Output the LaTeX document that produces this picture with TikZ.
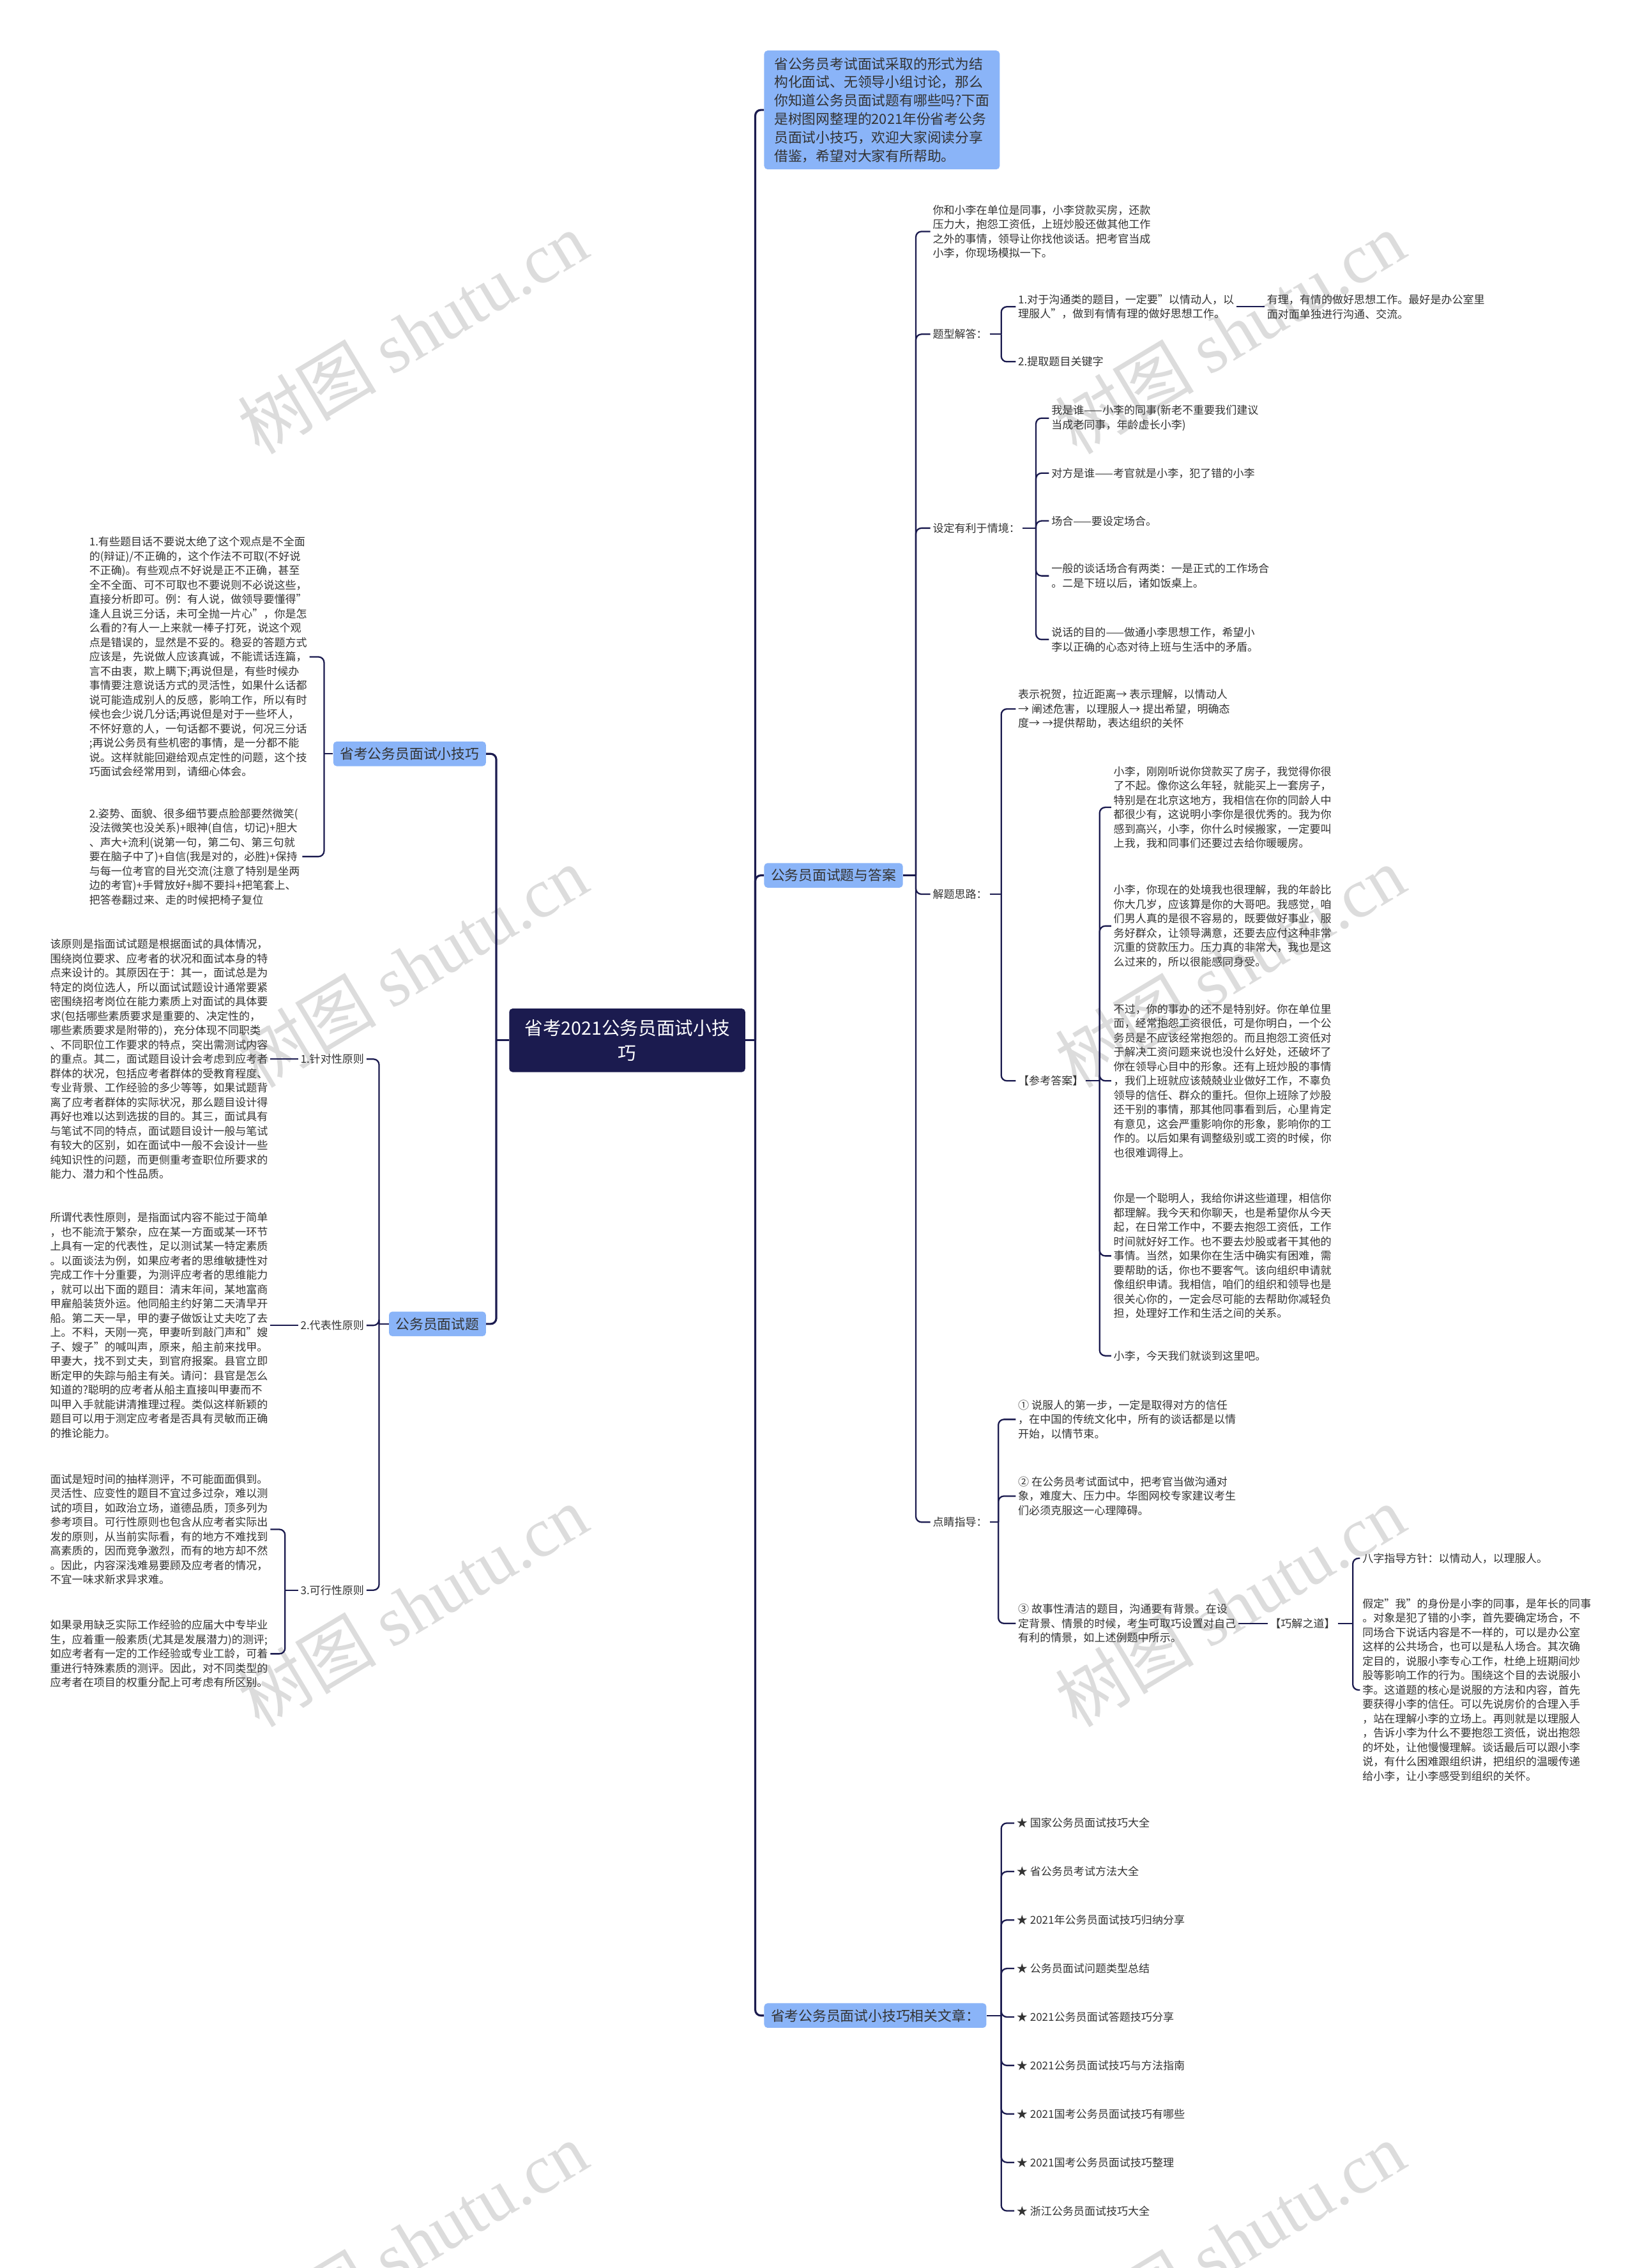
\documentclass[tikz,border=0pt]{standalone}
\usepackage{fontspec}
\setmainfont{Noto Sans CJK SC}
\newfontfamily\wmlatin{Liberation Serif}
\usetikzlibrary{positioning}
\definecolor{mapnavy}{HTML}{1B1B4F}
\definecolor{topicblue}{HTML}{8AB4F8}
\definecolor{mapink}{HTML}{333333}
\definecolor{wmgray}{HTML}{DCDCDC}

\begin{document}
\begin{tikzpicture}[
        x=0.4531mm, y=-0.4531mm,
        rootnode/.style={
            fill=mapnavy,
            text=white,
            rounded corners=3pt,
            align=center,
            minimum width=73.9mm,
            minimum height=19.9mm,
            font=\fontsize{16.3}{21.8}\selectfont
        },
        topicbox/.style={
            fill=topicblue,
            text=mapink,
            rounded corners=3pt,
            align=left,
            inner xsep=6pt,
            inner ysep=3pt,
            minimum height=7.7mm,
            font=\fontsize{12.4}{16.4}\selectfont
        },
        leaf/.style={
            text=mapink,
            align=left,
            anchor=west,
            inner xsep=2pt,
            inner ysep=1pt,
            font=\fontsize{9.7}{12.8}\selectfont
        },
        branch/.style={draw=mapnavy, line width=1.3pt, rounded corners=5pt},
        trunk/.style={branch, line width=1.8pt},
        watermark/.style={text=wmgray, rotate=31, font=\fontsize{62}{70}\selectfont}
    ]
        \fill[white] (0,0) rectangle (1130,1567.5);
        \useasboundingbox (0,0) rectangle (1130,1567.5);

        % watermark
        \foreach \wx in {285,850}
            \foreach \wy in {230,668,1110,1550}
                \node[watermark] at (\wx,\wy) {树图 {\wmlatin shutu.cn}};

        % root
        \node[rootnode] (root) at (433.5,719) {省考2021公务员面试小技\\巧};
        \coordinate (rootR) at (522,719);
        \coordinate (rootL) at (343,719);

        % right topics
        \node[topicbox, anchor=west, inner xsep=9pt, inner ysep=6pt] (intro) at (528,76)
            {省公务员考试面试采取的形式为结\\构化面试、无领导小组讨论，那么\\你知道公务员面试题有哪些吗?下面\\是树图网整理的2021年份省考公务\\员面试小技巧，欢迎大家阅读分享\\借鉴，希望对大家有所帮助。};
        \node[topicbox, anchor=west] (qa) at (528,605) {公务员面试题与答案};
        \node[topicbox, anchor=west] (arts) at (528,1393) {省考公务员面试小技巧相关文章：};

        % left topics
        \node[topicbox, anchor=east] (tips) at (336,521) {省考公务员面试小技巧};
        \node[topicbox, anchor=east] (exam) at (336,915) {公务员面试题};

        \draw[trunk] (root.east) -- (rootR);
        \draw[trunk] (root.west) -- (rootL);
        \foreach \t in {intro,qa,arts}
            \draw[trunk] (rootR) |- (\t.west);
        \foreach \t in {tips,exam}
            \draw[trunk] (rootL) |- (\t.east);

        % --- 公务员面试题与答案
        \node[leaf] (q1) at (643,160) {你和小李在单位是同事，小李贷款买房，还款\\压力大，抱怨工资低，上班炒股还做其他工作\\之外的事情，领导让你找他谈话。把考官当成\\小李，你现场模拟一下。};
        \node[leaf] (qtype) at (643,231) {题型解答：};
        \node[leaf] (qset) at (643,365) {设定有利于情境：};
        \node[leaf] (qidea) at (643,618) {解题思路：};
        \node[leaf] (qpoint) at (643,1052) {点睛指导：};
        \coordinate (qaJ) at (633,605);
        \draw[branch] (qa.east) -- (qaJ);
        \foreach \c in {q1,qtype,qset,qidea,qpoint}
            \draw[branch] (qaJ) |- (\c.west);

        % 题型解答
        \node[leaf] (t1) at (702,212) {1.对于沟通类的题目，一定要"以情动人，以\\理服人"，做到有情有理的做好思想工作。};
        \node[leaf] (t2) at (702,250) {2.提取题目关键字};
        \node[leaf] (t1note) at (874,212) {有理，有情的做好思想工作。最好是办公室里\\面对面单独进行沟通、交流。};
        \coordinate (qtypeJ) at (692,231);
        \draw[branch] (qtype.east) -- (qtypeJ);
        \foreach \c in {t1,t2}
            \draw[branch] (qtypeJ) |- (\c.west);
        \draw[branch] (t1.east) -- (t1note.west);

        % 设定有利于情境
        \node[leaf] (s1) at (725,289) {我是谁——小李的同事(新老不重要我们建议\\当成老同事，年龄虚长小李)};
        \node[leaf] (s2) at (725,327) {对方是谁——考官就是小李，犯了错的小李};
        \node[leaf] (s3) at (725,360) {场合——要设定场合。};
        \node[leaf] (s4) at (725,398) {一般的谈话场合有两类：一是正式的工作场合\\。二是下班以后，诸如饭桌上。};
        \node[leaf] (s5) at (725,442) {说话的目的——做通小李思想工作，希望小\\李以正确的心态对待上班与生活中的矛盾。};
        \coordinate (qsetJ) at (716,365);
        \draw[branch] (qset.east) -- (qsetJ);
        \foreach \c in {s1,s2,s3,s4,s5}
            \draw[branch] (qsetJ) |- (\c.west);

        % 解题思路
        \node[leaf] (i1) at (702,490) {表示祝贺，拉近距离→ 表示理解，以情动人\\→ 阐述危害，以理服人→ 提出希望，明确态\\度→ →提供帮助，表达组织的关怀};
        \node[leaf] (ians) at (702,747) {【参考答案】};
        \coordinate (qideaJ) at (692,618);
        \draw[branch] (qidea.east) -- (qideaJ);
        \foreach \c in {i1,ians}
            \draw[branch] (qideaJ) |- (\c.west);

        % 参考答案
        \node[leaf] (a1) at (768,558) {小李，刚刚听说你贷款买了房子，我觉得你很\\了不起。像你这么年轻，就能买上一套房子，\\特别是在北京这地方，我相信在你的同龄人中\\都很少有，这说明小李你是很优秀的。我为你\\感到高兴，小李，你什么时候搬家，一定要叫\\上我，我和同事们还要过去给你暖暖房。};
        \node[leaf] (a2) at (768,640) {小李，你现在的处境我也很理解，我的年龄比\\你大几岁，应该算是你的大哥吧。我感觉，咱\\们男人真的是很不容易的，既要做好事业，服\\务好群众，让领导满意，还要去应付这种非常\\沉重的贷款压力。压力真的非常大，我也是这\\么过来的，所以很能感同身受。};
        \node[leaf] (a3) at (768,747) {不过，你的事办的还不是特别好。你在单位里\\面，经常抱怨工资很低，可是你明白，一个公\\务员是不应该经常抱怨的。而且抱怨工资低对\\于解决工资问题来说也没什么好处，还破坏了\\你在领导心目中的形象。还有上班炒股的事情\\，我们上班就应该兢兢业业做好工作，不辜负\\领导的信任、群众的重托。但你上班除了炒股\\还干别的事情，那其他同事看到后，心里肯定\\有意见，这会严重影响你的形象，影响你的工\\作的。以后如果有调整级别或工资的时候，你\\也很难调得上。};
        \node[leaf] (a4) at (768,868) {你是一个聪明人，我给你讲这些道理，相信你\\都理解。我今天和你聊天，也是希望你从今天\\起，在日常工作中，不要去抱怨工资低，工作\\时间就好好工作。也不要去炒股或者干其他的\\事情。当然，如果你在生活中确实有困难，需\\要帮助的话，你也不要客气。该向组织申请就\\像组织申请。我相信，咱们的组织和领导也是\\很关心你的，一定会尽可能的去帮助你减轻负\\担，处理好工作和生活之间的关系。};
        \node[leaf] (a5) at (768,937) {小李，今天我们就谈到这里吧。};
        \coordinate (iansJ) at (760,747);
        \draw[branch] (ians.east) -- (iansJ);
        \foreach \c in {a1,a2,a3,a4,a5}
            \draw[branch] (iansJ) |- (\c.west);

        % 点睛指导
        \node[leaf] (p1) at (702,981) {① 说服人的第一步，一定是取得对方的信任\\，在中国的传统文化中，所有的谈话都是以情\\开始，以情节束。};
        \node[leaf] (p2) at (702,1034) {② 在公务员考试面试中，把考官当做沟通对\\象，难度大、压力中。华图网校专家建议考生\\们必须克服这一心理障碍。};
        \node[leaf] (p3) at (702,1122) {③ 故事性清洁的题目，沟通要有背景。在设\\定背景、情景的时候，考生可取巧设置对自己\\有利的情景，如上述例题中所示。};
        \node[leaf] (pway) at (876,1122) {【巧解之道】};
        \coordinate (qpointJ) at (690,1052);
        \draw[branch] (qpoint.east) -- (qpointJ);
        \foreach \c in {p1,p2,p3}
            \draw[branch] (qpointJ) |- (\c.west);
        \draw[branch] (p3.east) -- (pway.west);

        % 巧解之道
        \node[leaf] (w1) at (940,1077) {八字指导方针：以情动人，以理服人。};
        \node[leaf] (w2) at (940,1168) {假定"我"的身份是小李的同事，是年长的同事\\。对象是犯了错的小李，首先要确定场合，不\\同场合下说话内容是不一样的，可以是办公室\\这样的公共场合，也可以是私人场合。其次确\\定目的，说服小李专心工作，杜绝上班期间炒\\股等影响工作的行为。围绕这个目的去说服小\\李。这道题的核心是说服的方法和内容，首先\\要获得小李的信任。可以先说房价的合理入手\\，站在理解小李的立场上。再则就是以理服人\\，告诉小李为什么不要抱怨工资低，说出抱怨\\的坏处，让他慢慢理解。谈话最后可以跟小李\\说，有什么困难跟组织讲，把组织的温暖传递\\给小李，让小李感受到组织的关怀。};
        \coordinate (pwayJ) at (935,1122);
        \draw[branch] (pway.east) -- (pwayJ);
        \foreach \c in {w1,w2}
            \draw[branch] (pwayJ) |- (\c.west);

        % --- 相关文章
        \coordinate (artsJ) at (692,1393);
        \draw[branch] (arts.east) -- (artsJ);
        \foreach \t [count=\k from 0] in {国家公务员面试技巧大全,省公务员考试方法大全,2021年公务员面试技巧归纳分享,公务员面试问题类型总结,2021公务员面试答题技巧分享,2021公务员面试技巧与方法指南,2021国考公务员面试技巧有哪些,2021国考公务员面试技巧整理,浙江公务员面试技巧大全}{
            \node[leaf] (art\k) at (701,{1260+33.5*\k}) {★ \t};
            \draw[branch] (artsJ) |- (art\k.west);
        }

        % --- 省考公务员面试小技巧
        \node[leaf] (tip1) at (60,454) {1.有些题目话不要说太绝了这个观点是不全面\\的(辩证)/不正确的，这个作法不可取(不好说\\不正确)。有些观点不好说是正不正确，甚至\\全不全面、可不可取也不要说则不必说这些，\\直接分析即可。例：有人说，做领导要懂得"\\逢人且说三分话，未可全抛一片心"，你是怎\\么看的?有人一上来就一棒子打死，说这个观\\点是错误的，显然是不妥的。稳妥的答题方式\\应该是，先说做人应该真诚，不能谎话连篇，\\言不由衷，欺上瞒下;再说但是，有些时候办\\事情要注意说话方式的灵活性，如果什么话都\\说可能造成别人的反感，影响工作，所以有时\\候也会少说几分话;再说但是对于一些坏人，\\不怀好意的人，一句话都不要说，何况三分话\\;再说公务员有些机密的事情，是一分都不能\\说。这样就能回避给观点定性的问题，这个技\\巧面试会经常用到，请细心体会。};
        \node[leaf] (tip2) at (60,592) {2.姿势、面貌、很多细节要点脸部要然微笑(\\没法微笑也没关系)+眼神(自信，切记)+胆大\\、声大+流利(说第一句，第二句、第三句就\\要在脑子中了)+自信(我是对的，必胜)+保持\\与每一位考官的目光交流(注意了特别是坐两\\边的考官)+手臂放好+脚不要抖+把笔套上、\\把答卷翻过来、走的时候把椅子复位};
        \coordinate (tipsJ) at (224,521);
        \draw[branch] (tips.west) -- (tipsJ);
        \foreach \c in {tip1,tip2}
            \draw[branch] (tipsJ) |- (\c.east);

        % --- 公务员面试题
        \node[leaf] (e1l) at (206,732) {1.针对性原则};
        \node[leaf] (e2l) at (206,916) {2.代表性原则};
        \node[leaf] (e3l) at (206,1099) {3.可行性原则};
        \coordinate (examJ) at (262,915);
        \draw[branch] (exam.west) -- (examJ);
        \foreach \c in {e1l,e2l,e3l}
            \draw[branch] (examJ) |- (\c.east);

        \node[leaf] (e1) at (33,732) {该原则是指面试试题是根据面试的具体情况，\\围绕岗位要求、应考者的状况和面试本身的特\\点来设计的。其原因在于：其一，面试总是为\\特定的岗位选人，所以面试试题设计通常要紧\\密围绕招考岗位在能力素质上对面试的具体要\\求(包括哪些素质要求是重要的、决定性的，\\哪些素质要求是附带的)，充分体现不同职类\\、不同职位工作要求的特点，突出需测试内容\\的重点。其二，面试题目设计会考虑到应考者\\群体的状况，包括应考者群体的受教育程度、\\专业背景、工作经验的多少等等，如果试题背\\离了应考者群体的实际状况，那么题目设计得\\再好也难以达到选拔的目的。其三，面试具有\\与笔试不同的特点，面试题目设计一般与笔试\\有较大的区别，如在面试中一般不会设计一些\\纯知识性的问题，而更侧重考查职位所要求的\\能力、潜力和个性品质。};
        \node[leaf] (e2) at (33,916) {所谓代表性原则，是指面试内容不能过于简单\\，也不能流于繁杂，应在某一方面或某一环节\\上具有一定的代表性，足以测试某一特定素质\\。以面谈法为例，如果应考者的思维敏捷性对\\完成工作十分重要，为测评应考者的思维能力\\，就可以出下面的题目：清末年间，某地富商\\甲雇船装货外运。他同船主约好第二天清早开\\船。第二天一早，甲的妻子做饭让丈夫吃了去\\上。不料，天刚一亮，甲妻听到敲门声和"嫂\\子、嫂子"的喊叫声，原来，船主前来找甲。\\甲妻大，找不到丈夫，到官府报案。县官立即\\断定甲的失踪与船主有关。请问：县官是怎么\\知道的?聪明的应考者从船主直接叫甲妻而不\\叫甲入手就能讲清推理过程。类似这样新颖的\\题目可以用于测定应考者是否具有灵敏而正确\\的推论能力。};
        \draw[branch] (e1l.west) -- (e1.east);
        \draw[branch] (e2l.west) -- (e2.east);

        \node[leaf] (e3a) at (33,1057) {面试是短时间的抽样测评，不可能面面俱到。\\灵活性、应变性的题目不宜过多过杂，难以测\\试的项目，如政治立场，道德品质，顶多列为\\参考项目。可行性原则也包含从应考者实际出\\发的原则，从当前实际看，有的地方不难找到\\高素质的，因而竞争激烈，而有的地方却不然\\。因此，内容深浅难易要顾及应考者的情况，\\不宜一味求新求异求难。};
        \node[leaf] (e3b) at (33,1143) {如果录用缺乏实际工作经验的应届大中专毕业\\生，应着重一般素质(尤其是发展潜力)的测评;\\如应考者有一定的工作经验或专业工龄，可着\\重进行特殊素质的测评。因此，对不同类型的\\应考者在项目的权重分配上可考虑有所区别。};
        \coordinate (e3J) at (197,1099);
        \draw[branch] (e3l.west) -- (e3J);
        \foreach \c in {e3a,e3b}
            \draw[branch] (e3J) |- (\c.east);
    \end{tikzpicture}
\end{document}
